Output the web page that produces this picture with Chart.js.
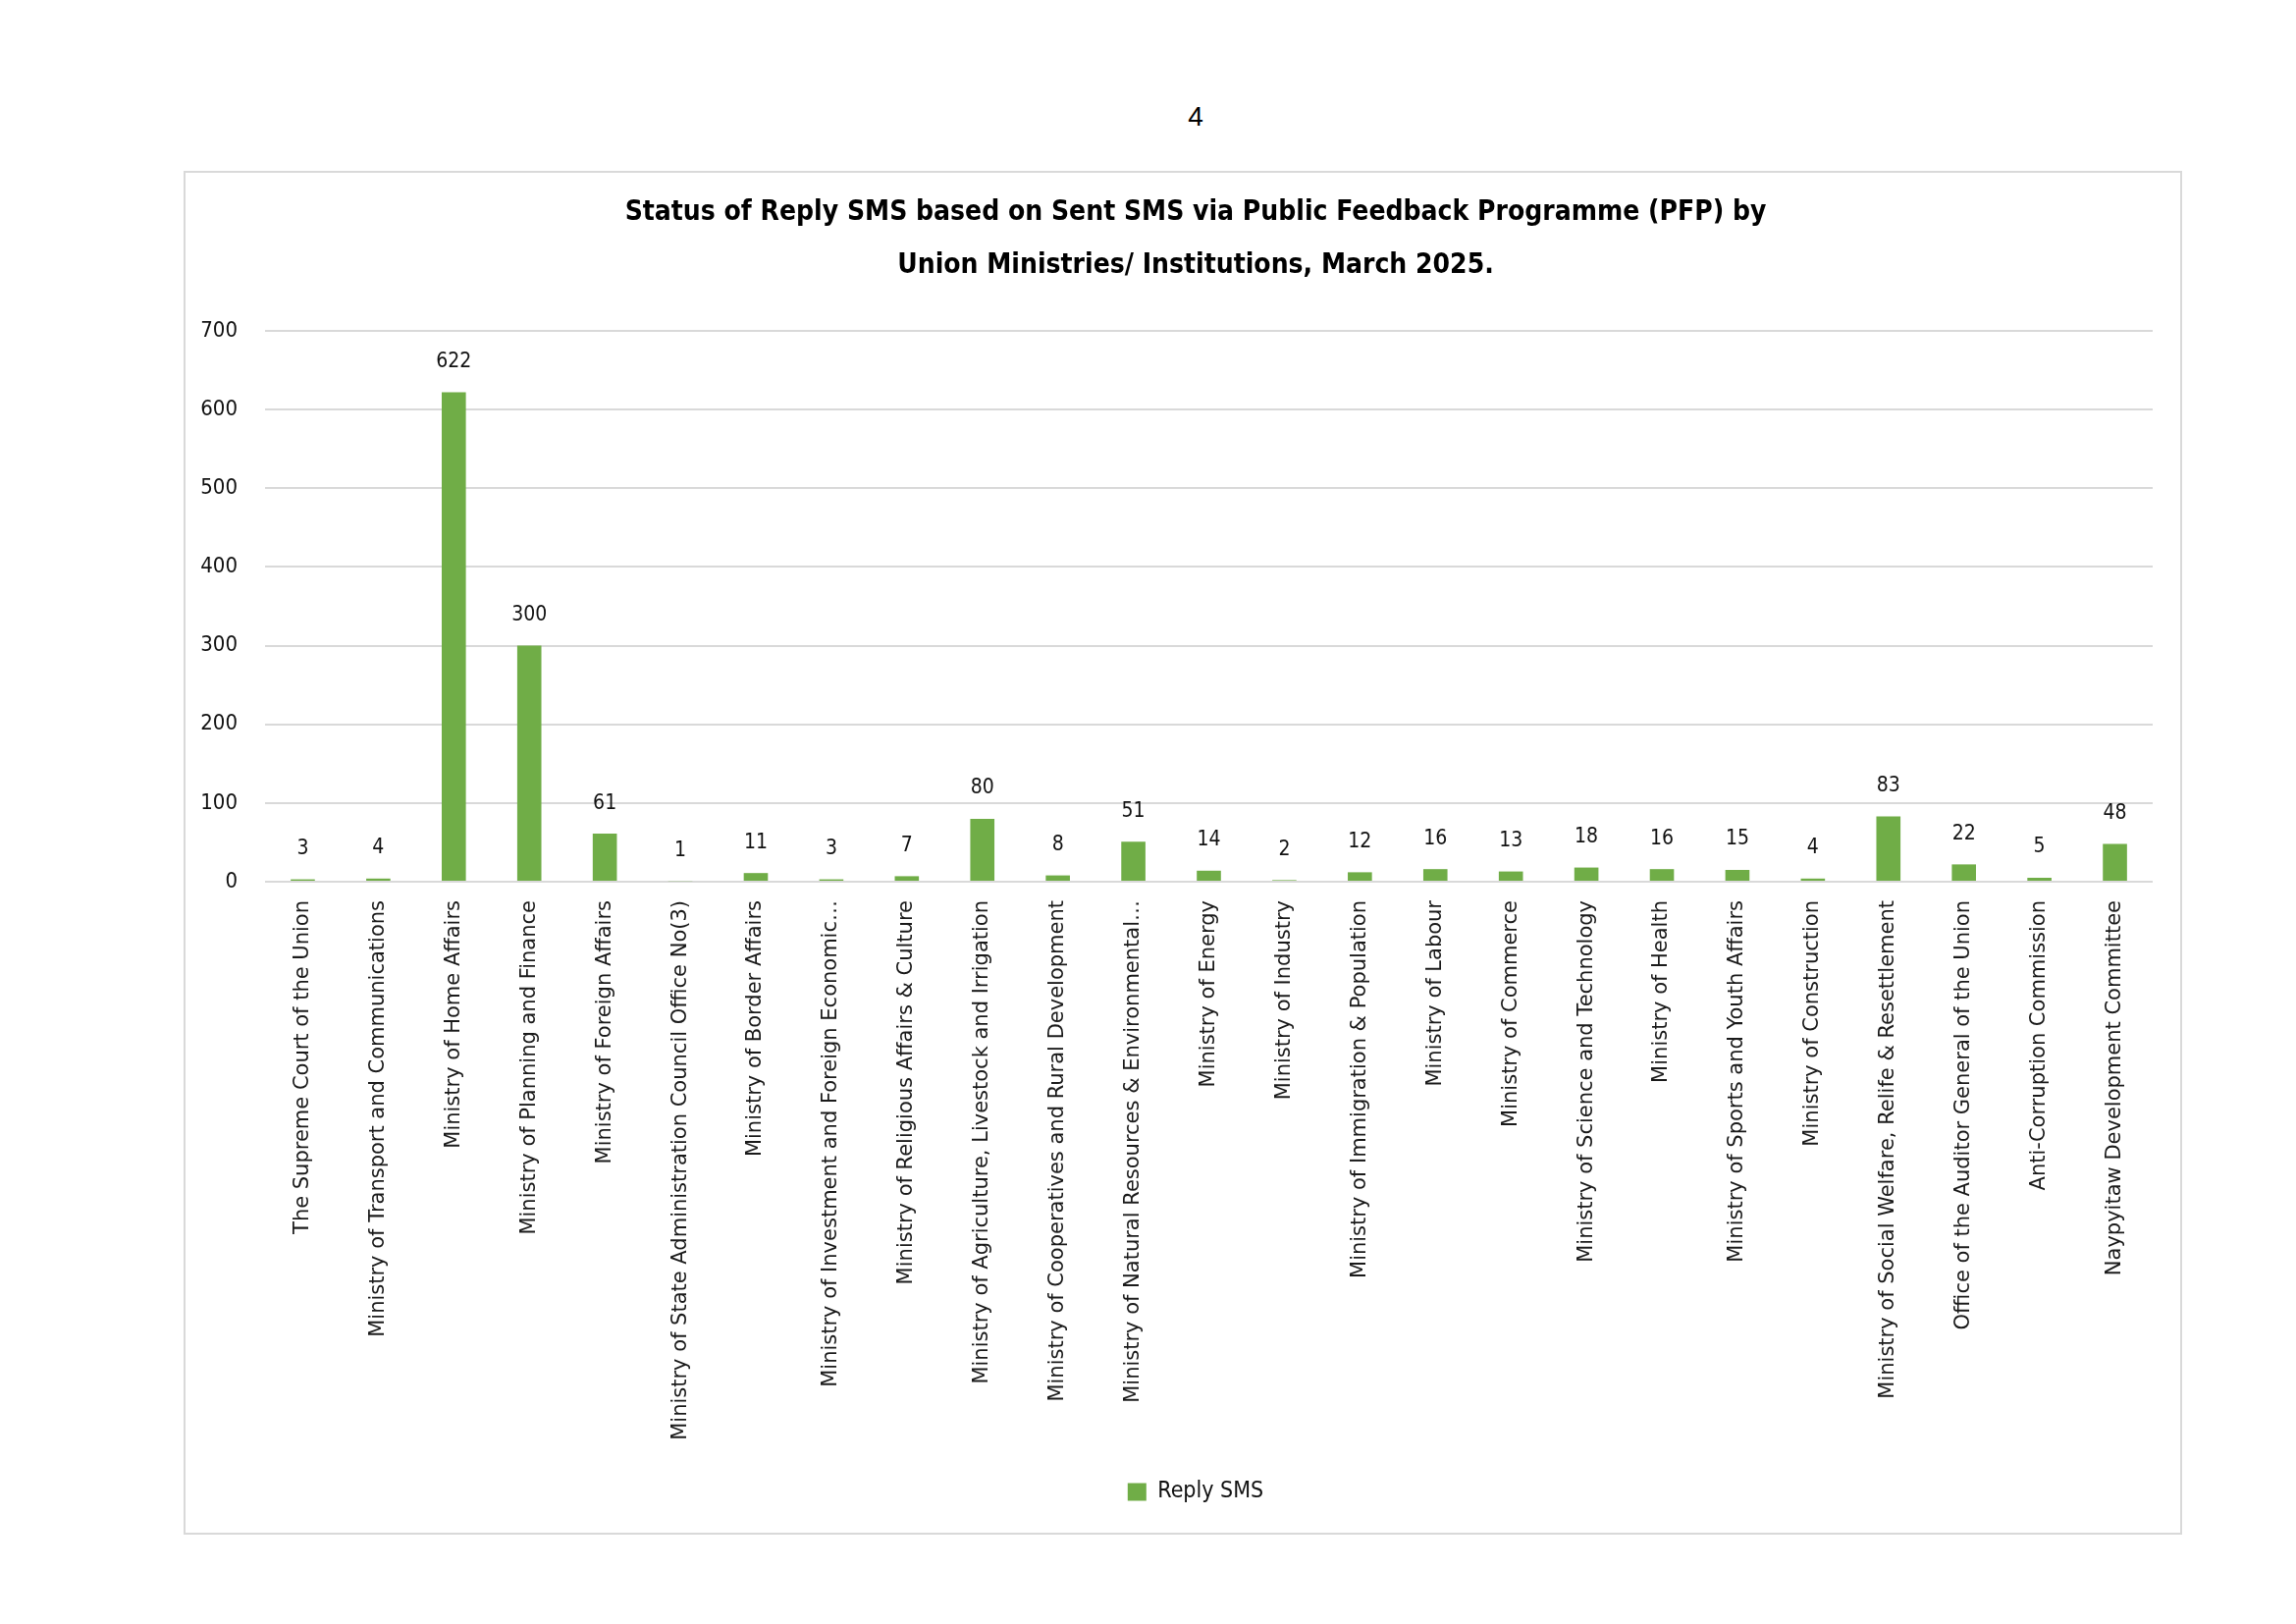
<!DOCTYPE html>
<html>
<head>
<meta charset="utf-8">
<script src="https://cdn.jsdelivr.net/npm/chart.js@4.4.1/dist/chart.umd.min.js"></script>
<style>
  html, body { margin:0; padding:0; background:#fff; width:2339px; height:1654px; overflow:hidden; }
  #pagenum { position:absolute; left:1198px; top:103px; width:40px; text-align:center; line-height:32px;
             font-family:"Liberation Sans", Arial, sans-serif; font-size:28px; color:#000; }
  #frame { position:absolute; left:187px; top:174px; width:2032px; height:1385px;
           border:2px solid #d9d9d9; }
  canvas { display:block; }
</style>
</head>
<body>
<div id="pagenum">4</div>
<div id="frame"><canvas id="c" width="2032" height="1385"></canvas></div>
<script>
const categories = [
  "The Supreme Court of the Union",
  "Ministry of Transport and Communications",
  "Ministry of Home Affairs",
  "Ministry of Planning and Finance",
  "Ministry of Foreign Affairs",
  "Ministry of State Administration Council Office No(3)",
  "Ministry of Border Affairs",
  "Ministry of Investment and Foreign Economic\u2026",
  "Ministry of Religious Affairs & Culture",
  "Ministry of Agriculture, Livestock and Irrigation",
  "Ministry of Cooperatives and Rural Development",
  "Ministry of Natural Resources & Environmental\u2026",
  "Ministry of Energy",
  "Ministry of Industry",
  "Ministry of Immigration & Population",
  "Ministry of Labour",
  "Ministry of Commerce",
  "Ministry of Science and Technology",
  "Ministry of Health",
  "Ministry of Sports and Youth Affairs",
  "Ministry of Construction",
  "Ministry of Social Welfare, Relife & Resettlement",
  "Office of the Auditor General of the Union",
  "Anti-Corruption Commission",
  "Naypyitaw Development Committee"
];
const replySMS = [3,4,622,300,61,1,11,3,7,80,8,51,14,2,12,16,13,18,16,15,4,83,22,5,48];
const yTicks = [0,100,200,300,400,500,600,700];
const titleLines = [
  "Status of Reply SMS based on Sent SMS via Public Feedback Programme (PFP) by",
  "Union Ministries/ Institutions, March 2025."
];
const seriesName = "Reply SMS";

const narrow = "'DejaVu Sans Condensed', 'DejaVu Sans', sans-serif";
const wide = "'DejaVu Sans', sans-serif";

const valueLabels = {
  id: 'valueLabels',
  afterDatasetsDraw(chart) {
    const ctx = chart.ctx;
    const meta = chart.getDatasetMeta(0);
    ctx.save();
    ctx.font = "21px " + narrow;
    ctx.fillStyle = "#111";
    ctx.textAlign = "center";
    ctx.textBaseline = "middle";
    meta.data.forEach((bar, i) => {
      ctx.fillText(String(replySMS[i]), bar.x, bar.y - 31);
    });
    ctx.restore();
  }
};

// let the y tick labels use the space to the left of the axis box (avoid clipping)
const widenYLabelArea = {
  id: 'widenYLabelArea',
  afterLayout(chart) { chart.scales.y.left = 0; }
};

new Chart(document.getElementById('c'), {
  type: 'bar',
  data: {
    labels: categories,
    datasets: [{
      label: seriesName,
      data: replySMS,
      backgroundColor: '#70ad47',
      borderWidth: 0,
      categoryPercentage: 1.0,
      barPercentage: 0.32
    }]
  },
  plugins: [valueLabels, widenYLabelArea],
  options: {
    responsive: false,
    animation: false,
    devicePixelRatio: 1,
    layout: { padding: { left: 54, right: 28, top: 0, bottom: 20 } },
    plugins: {
      title: {
        display: true,
        text: titleLines,
        color: '#000',
        font: { family: narrow, size: 28, weight: 'bold', lineHeight: 1.93 },
        padding: { top: 14, bottom: 39 }
      },
      legend: {
        display: true,
        position: 'bottom',
        labels: {
          color: '#111',
          font: { family: narrow, size: 23 },
          boxWidth: 19, boxHeight: 18, padding: 10
        }
      },
      tooltip: { enabled: false }
    },
    scales: {
      x: {
        grid: { display: false, drawTicks: false },
        border: { display: false },
        ticks: {
          autoSkip: false, maxRotation: 90, minRotation: 90,
          padding: 19, color: '#1a1a1a',
          font: { family: wide, size: 21 }
        },
        afterFit(scale) { scale.height = 600; }
      },
      y: {
        min: 0, max: 700,
        afterBuildTicks(scale) { scale.ticks = yTicks.map(v => ({ value: v })); },
        grid: { color: '#d9d9d9', lineWidth: 2, drawTicks: false },
        border: { display: false },
        ticks: {
          padding: 28, color: '#111',
          font: { family: narrow, size: 22 }
        },
        afterFit(scale) { scale.width = 27; }
      }
    }
  }
});
</script>
</body>
</html>
